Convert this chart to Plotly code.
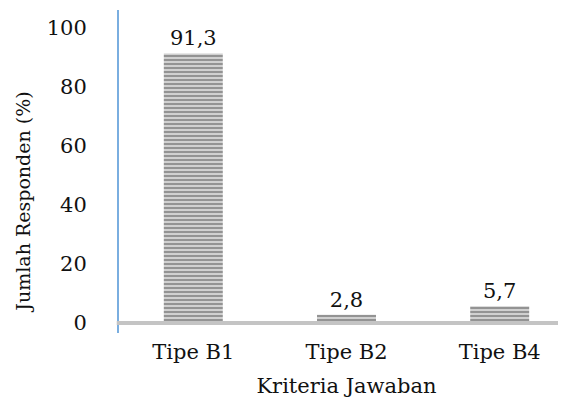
import plotly.graph_objects as go

categories = ["Tipe B1", "Tipe B2", "Tipe B4"]
values = [91.3, 2.8, 5.7]
value_labels = ["91,3", "2,8", "5,7"]
y_ticks = [0, 20, 40, 60, 80, 100]

FONT = "DejaVu Serif"
OFF = 8  # page body margin offset

fig = go.Figure(go.Bar(
    x=categories,
    y=values,
    text=value_labels,
    textposition="outside",
    cliponaxis=False,
    width=0.385,
    textfont=dict(family=FONT, size=21, color="#111111"),
    marker=dict(
        color="#cfcfcf",
        line=dict(width=0),
        pattern=dict(shape="-", fgcolor="#565656", bgcolor="#d0d0d0",
                     size=4, solidity=0.5, fillmode="overlay"),
    ),
))

fig.add_shape(type="line", xref="paper", yref="y", x0=-0.005, x1=1, y0=0, y1=0,
              line=dict(color="#c4c4c4", width=4), layer="above")

fig.add_annotation(
    text="Jumlah Responden (%)", textangle=-90,
    xref="paper", yref="paper", x=-0.21, y=0.405,
    xanchor="center", yanchor="middle", showarrow=False,
    font=dict(family=FONT, size=19, color="#111111"),
)

fig.update_layout(
    width=566, height=411,
    margin=dict(l=119 - OFF, r=0, t=10 - OFF, b=78 + OFF),
    plot_bgcolor="white", paper_bgcolor="white",
    showlegend=False,
    font=dict(family=FONT, size=21, color="#111111"),
    xaxis=dict(
        range=[-0.485, 2.485],
        showline=False, showgrid=False, zeroline=False,
        ticks="", tickfont=dict(family=FONT, size=21),
        ticklabelstandoff=4,
        title=dict(text="Kriteria Jawaban", font=dict(family=FONT, size=21), standoff=15),
    ),
    yaxis=dict(
        range=[-3.4, 106],
        tickvals=y_ticks,
        showline=True, linecolor="#7aaee0", linewidth=2,
        showgrid=False, zeroline=False,
        ticks="", tickfont=dict(family=FONT, size=21),
        ticklabelstandoff=26,
    ),
)

fig.write_html("out.html")
